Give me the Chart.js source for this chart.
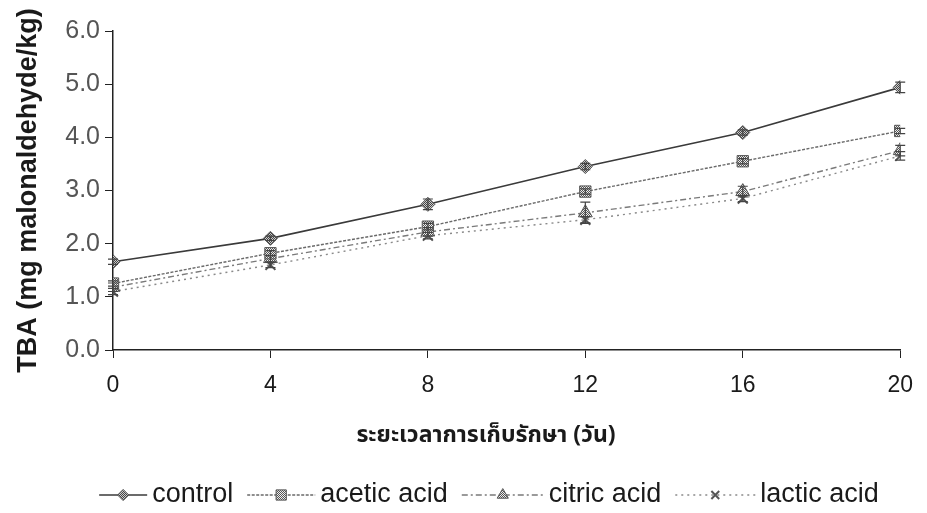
<!DOCTYPE html>
<html>
<head>
<meta charset="utf-8">
<script src="https://cdn.jsdelivr.net/npm/chart.js@4/dist/chart.umd.min.js"></script>
<style>
  html, body { margin: 0; padding: 0; background: #fff; }
  #wrap { width: 927px; height: 513px; position: relative; }
</style>
</head>
<body>
<div id="wrap"><canvas id="c" width="927" height="513"></canvas></div>
<script>
// Storage time (days) and TBA values (mg malonaldehyde/kg)
const days = [0, 4, 8, 12, 16, 20];
const seriesNames = ['control', 'acetic acid', 'citric acid', 'lactic acid'];
const controlTBA = [1.66, 2.10, 2.74, 3.45, 4.09, 4.94];
const aceticTBA  = [1.25, 1.82, 2.32, 2.98, 3.55, 4.12];
const citricTBA  = [1.18, 1.72, 2.22, 2.58, 2.98, 3.75];
const lacticTBA  = [1.10, 1.60, 2.15, 2.45, 2.85, 3.65];
// Standard deviations
const controlSD = [0.05, 0.04, 0.10, 0.06, 0.05, 0.10];
const aceticSD  = [0.05, 0.05, 0.06, 0.05, 0.05, 0.05];
const citricSD  = [0.08, 0.06, 0.08, 0.20, 0.10, 0.10];
const lacticSD  = [0.06, 0.05, 0.06, 0.06, 0.06, 0.08];
const yTicks = [0, 1, 2, 3, 4, 5, 6];
const xTitle = 'ระยะเวลาการเก็บรักษา (วัน)';
const yTitle = 'TBA (mg malonaldehyde/kg)';

const canvas = document.getElementById('c');
const ctx0 = canvas.getContext('2d');

// small checkered fill for the markers
function checker(dark, light) {
  const c = document.createElement('canvas');
  c.width = 2; c.height = 2;
  const g = c.getContext('2d');
  g.fillStyle = light; g.fillRect(0, 0, 2, 2);
  g.fillStyle = dark; g.fillRect(0, 0, 1, 1); g.fillRect(1, 1, 1, 1);
  return ctx0.createPattern(c, 'repeat');
}

const toPts = arr => days.map((d, i) => ({ x: d, y: arr[i] }));

const styles = [
  { color: '#3a3a3a', dash: [], point: 'rectRot', r: 7, fill: checker('#444', '#ccc'), iconW: 48 },
  { color: '#6a6a6a', dash: [3, 1.5], point: 'rect', r: 8, fill: checker('#555', '#eee'), iconW: 68 },
  { color: '#7a7a7a', dash: [6, 3, 2, 3], point: 'triangle', r: 8, fill: checker('#555', '#eee'), iconW: 82 },
  { color: '#8a8a8a', dash: [2, 4], point: 'crossRot', r: 7, fill: '#888', iconW: 80 }
];
const values = [controlTBA, aceticTBA, citricTBA, lacticTBA];
const sds = [controlSD, aceticSD, citricSD, lacticSD];

const datasets = seriesNames.map((name, k) => ({
  label: name,
  data: toPts(values[k]),
  sd: sds[k],
  borderColor: styles[k].color,
  borderWidth: k === 0 ? 1.6 : 1.4,
  borderDash: styles[k].dash,
  pointStyle: styles[k].point,
  pointRadius: styles[k].r,
  pointBackgroundColor: styles[k].fill,
  pointBorderColor: '#555',
  pointBorderWidth: k === 3 ? 2 : 1,
  tension: 0,
  fill: false
}));

// error bars with caps
const errorBars = {
  id: 'errorBars',
  afterDatasetsDraw(chart) {
    const { ctx, scales: { x, y } } = chart;
    ctx.save();
    ctx.strokeStyle = '#444';
    ctx.lineWidth = 1.2;
    chart.data.datasets.forEach(ds => {
      ds.data.forEach((p, i) => {
        const e = ds.sd[i];
        const px = x.getPixelForValue(p.x);
        const top = y.getPixelForValue(p.y + e);
        const bot = y.getPixelForValue(p.y - e);
        ctx.beginPath();
        ctx.moveTo(px, top); ctx.lineTo(px, bot);
        ctx.moveTo(px - 5, top); ctx.lineTo(px + 5, top);
        ctx.moveTo(px - 5, bot); ctx.lineTo(px + 5, bot);
        ctx.stroke();
      });
    });
    ctx.restore();
  }
};

function drawMarker(ctx, style, x, y, r, fill, stroke, lw) {
  ctx.save();
  ctx.fillStyle = fill; ctx.strokeStyle = stroke; ctx.lineWidth = lw;
  ctx.beginPath();
  if (style === 'rectRot') {
    ctx.moveTo(x, y - r); ctx.lineTo(x + r, y); ctx.lineTo(x, y + r); ctx.lineTo(x - r, y); ctx.closePath();
    ctx.fill(); ctx.stroke();
  } else if (style === 'rect') {
    const s = r * 0.8;
    ctx.rect(x - s, y - s, 2 * s, 2 * s); ctx.fill(); ctx.stroke();
  } else if (style === 'triangle') {
    ctx.moveTo(x, y - r); ctx.lineTo(x + r * 0.87, y + r * 0.5); ctx.lineTo(x - r * 0.87, y + r * 0.5); ctx.closePath();
    ctx.fill(); ctx.stroke();
  } else {
    const s = r * 0.7;
    ctx.moveTo(x - s, y - s); ctx.lineTo(x + s, y + s);
    ctx.moveTo(x + s, y - s); ctx.lineTo(x - s, y + s);
    ctx.stroke();
  }
  ctx.restore();
}

// x-axis title and legend beneath the plot
const bottomTexts = {
  id: 'bottomTexts',
  afterDraw(chart) {
    const { ctx } = chart;
    ctx.save();
    ctx.fillStyle = '#1a1a1a';
    ctx.textAlign = 'center';
    ctx.textBaseline = 'middle';
    ctx.font = 'bold 23px "Noto Sans Thai", "Loma", "Garuda", "Tlwg Typo", "DejaVu Sans", sans-serif';
    ctx.fillText(xTitle, 486, 437);

    ctx.font = '27px "Liberation Sans", Arial, sans-serif';
    const gap = 5, spacing = 14;
    const items = chart.data.datasets.map((ds, k) => {
      const tw = ctx.measureText(ds.label).width;
      return { ds, k, tw, w: styles[k].iconW + gap + tw };
    });
    const total = items.reduce((s, it) => s + it.w, 0) + spacing * (items.length - 1);
    let x = 489 - total / 2;
    const yc = 495;
    items.forEach(it => {
      const st = styles[it.k];
      ctx.save();
      ctx.strokeStyle = st.color;
      ctx.lineWidth = it.ds.borderWidth;
      ctx.setLineDash(st.dash);
      ctx.beginPath(); ctx.moveTo(x, yc); ctx.lineTo(x + st.iconW, yc); ctx.stroke();
      ctx.restore();
      drawMarker(ctx, st.point, x + st.iconW / 2, yc, st.r * 0.8, st.fill, '#555', it.ds.pointBorderWidth);
      ctx.textAlign = 'left';
      ctx.fillStyle = '#1a1a1a';
      ctx.fillText(it.ds.label, x + st.iconW + gap, yc);
      x += it.w + spacing;
    });
    ctx.restore();
  }
};

new Chart(canvas, {
  type: 'line',
  data: { datasets },
  options: {
    responsive: false,
    animation: false,
    events: [],
    layout: { padding: { top: 31, right: 22, bottom: 0, left: 0 } },
    plugins: { legend: { display: false }, tooltip: { enabled: false } },
    scales: {
      x: {
        type: 'linear',
        min: 0, max: 20,
        afterFit: s => { s.height = 163; },
        ticks: { stepSize: 4, color: '#1a1a1a', padding: 14, font: { family: '"Liberation Sans", Arial, sans-serif', size: 23 } },
        grid: { drawOnChartArea: false, drawTicks: true, tickLength: 8, color: '#222' },
        border: { color: '#222', width: 1.5 }
      },
      y: {
        min: 0, max: 6,
        afterFit: s => { s.width = 113; },
        afterBuildTicks: s => { s.ticks = yTicks.map(v => ({ value: v })); },
        ticks: {
          color: '#555', padding: 5,
          callback: v => Number(v).toFixed(1),
          font: { family: '"Liberation Sans", Arial, sans-serif', size: 25 }
        },
        grid: { drawOnChartArea: false, drawTicks: true, tickLength: 8, color: '#222' },
        border: { color: '#222', width: 1.5 },
        title: {
          display: true, text: yTitle, color: '#1a1a1a',
          padding: { top: 12, bottom: 0 },
          font: { family: '"Liberation Sans", Arial, sans-serif', size: 27, weight: 'bold' }
        }
      }
    }
  },
  plugins: [errorBars, bottomTexts]
});
</script>
</body>
</html>
